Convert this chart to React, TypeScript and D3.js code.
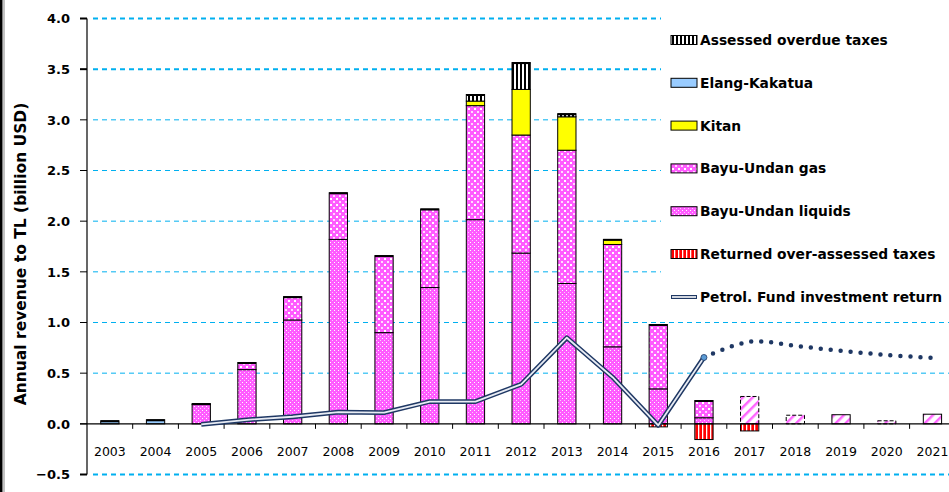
import React from 'react';
import * as d3 from 'd3';

const years = ['2003', '2004', '2005', '2006', '2007', '2008', '2009', '2010', '2011', '2012',
  '2013', '2014', '2015', '2016', '2017', '2018', '2019', '2020', '2021'];

const elangKakatua = [0.03, 0.04, 0, 0, 0, 0, 0, 0, 0, 0, 0, 0, 0, 0, 0, 0, 0, 0, 0];
const buLiquids = [0, 0, 0.19, 0.535, 1.025, 1.82, 0.9, 1.345, 2.015, 1.685, 1.385, 0.76, 0.345, 0.06, 0, 0, 0, 0, 0];
const buGas = [0, 0, 0.01, 0.07, 0.23, 0.46, 0.76, 0.775, 1.125, 1.165, 1.315, 1.01, 0.635, 0.17, 0, 0, 0, 0, 0];
const kitan = [0, 0, 0, 0, 0, 0, 0, 0, 0.045, 0.45, 0.33, 0.05, 0, 0, 0, 0, 0, 0, 0];
const overdueTaxes = [0, 0, 0, 0, 0, 0, 0, 0, 0.065, 0.265, 0.03, 0, 0, 0, 0, 0, 0, 0, 0];
const projected = [0, 0, 0, 0, 0, 0, 0, 0, 0, 0, 0, 0, 0, 0, 0.27, 0.085, 0.09, 0.03, 0.095];
const returnedTaxes = [0, 0, 0, 0, 0, 0, 0, 0, 0, 0, 0, 0, -0.03, -0.155, -0.07, 0, 0, 0, 0];

const fundYears = ['2005', '2006', '2007', '2008', '2009', '2010', '2011', '2012', '2013', '2014', '2015', '2016'];
const fundReturn = [-0.005, 0.04, 0.07, 0.115, 0.11, 0.22, 0.22, 0.39, 0.85, 0.46, -0.015, 0.655];
const fundForecastYears = ['2016', '2017', '2018', '2019', '2020', '2021'];
const fundForecast = [0.655, 0.81, 0.77, 0.72, 0.68, 0.65];

const yTicks = [-0.5, 0, 0.5, 1, 1.5, 2, 2.5, 3, 3.5, 4];
const thickTicks = [-0.5, 3.5, 4];

const legendItems = [
  { label: 'Assessed overdue taxes', fill: 'url(#pOverdue)' },
  { label: 'Elang-Kakatua', fill: '#99ccff' },
  { label: 'Kitan', fill: '#ffff00' },
  { label: 'Bayu-Undan gas', fill: 'url(#pGas)' },
  { label: 'Bayu-Undan liquids', fill: 'url(#pLiquids)' },
  { label: 'Returned over-assessed taxes', fill: 'url(#pReturned)' },
];

const W = 949;
const H = 492;
const FONT = '"DejaVu Sans", Verdana, sans-serif';
const NAVY = '#1f3864';

const keys = ['elang', 'liquids', 'gas', 'kitan', 'overdue', 'projected'];
const fills: Record<string, string> = {
  elang: '#99ccff',
  liquids: 'url(#pLiquids)',
  gas: 'url(#pGas)',
  kitan: '#ffff00',
  overdue: 'url(#pOverdue)',
  projected: 'url(#pProjected)',
};

export default function App() {
  const x = d3.scaleBand().domain(years).range([87, 955.3]).paddingInner(0.6).paddingOuter(0.3);
  const y = d3.scaleLinear().domain([-0.5, 4]).range([474.5, 18.5]);
  const bw = x.bandwidth();
  const cx = (yr: string) => (x(yr) as number) + bw / 2;

  const table = years.map((yr, i) => ({
    year: yr,
    elang: elangKakatua[i],
    liquids: buLiquids[i],
    gas: buGas[i],
    kitan: kitan[i],
    overdue: overdueTaxes[i],
    projected: projected[i],
  }));
  const series = d3.stack<any>().keys(keys)(table);

  const totals = table.map(d => keys.reduce((s, k) => s + (d as any)[k], 0));

  const fundLine = d3.line<number>().x((_, i) => cx(fundYears[i])).y(d => y(d));
  const forecastLine = d3.line<number>()
    .x((_, i) => cx(fundForecastYears[i]))
    .y(d => y(d))
    .curve(d3.curveCatmullRom.alpha(0.5));

  const fundPath = fundLine(fundReturn) || '';
  const forecastPath = forecastLine(fundForecast) || '';

  const boundaries = years.slice(1).map(yr => (x(yr) as number) - (x.step() - bw) / 2);

  return (
    <svg width={W} height={H} style={{ position: 'absolute', left: 0, top: 0, background: '#fff' }}>
      <defs>
        <pattern id="pLiquids" width="4" height="4" patternUnits="userSpaceOnUse">
          <rect width="4" height="4" fill="#ff5cff" />
          <rect x="0" y="0" width="1" height="1" fill="#ffc8ff" />
          <rect x="2" y="2" width="1" height="1" fill="#ffffff" />
        </pattern>
        <pattern id="pGas" width="6" height="6" patternUnits="userSpaceOnUse">
          <rect width="6" height="6" fill="#ff5cff" />
          <rect x="0" y="0" width="2" height="2" fill="#ffffff" />
          <rect x="3" y="3" width="2" height="2" fill="#ffd8ff" />
        </pattern>
        <pattern id="pOverdue" width="4" height="4" patternUnits="userSpaceOnUse">
          <rect width="4" height="4" fill="#ffffff" />
          <rect x="0" y="0" width="2" height="4" fill="#000000" />
        </pattern>
        <pattern id="pReturned" width="4" height="4" patternUnits="userSpaceOnUse">
          <rect width="4" height="4" fill="#ff0000" />
          <rect x="2" y="0" width="1.3" height="4" fill="#ffffff" />
        </pattern>
        <pattern id="pProjected" width="7" height="7" patternUnits="userSpaceOnUse" patternTransform="rotate(45)">
          <rect width="7" height="7" fill="#ffffff" />
          <rect x="0" y="0" width="2.5" height="7" fill="#ff66ff" />
        </pattern>
      </defs>

      {/* frame line on the left */}
      <rect x={0} y={0} width={2.5} height={H} fill="#000" />
      <rect x={3.5} y={0} width={1} height={H} fill="#888" />

      {/* gridlines */}
      {yTicks.filter(t => t !== 0).map(t => (
        <line key={'g' + t} x1={93} x2={W} y1={y(t)} y2={y(t)}
          stroke="#00b0f0" strokeWidth={thickTicks.includes(t) ? 2 : 1} strokeDasharray="5 4" />
      ))}

      {/* positive stacked bars */}
      {series.map(s => (
        <g key={s.key}>
          {s.map((d, i) => {
            if (d[1] - d[0] <= 0) return null;
            const isProj = s.key === 'projected';
            return (
              <rect key={i} x={x(years[i])} width={bw}
                y={y(d[1])} height={y(d[0]) - y(d[1])}
                fill={fills[s.key]} stroke="#000" strokeWidth={1}
                strokeDasharray={isProj && years[i] !== '2021' && years[i] !== '2019' ? '4 2' : undefined} />
            );
          })}
        </g>
      ))}

      {/* heavier top edge */}
      {totals.map((t, i) => t > 0 && projected[i] === 0 ? (
        <line key={'top' + i} x1={x(years[i])} x2={(x(years[i]) as number) + bw}
          y1={y(t) + 0.5} y2={y(t) + 0.5} stroke="#000" strokeWidth={2} />
      ) : null)}

      {/* negative bars */}
      {returnedTaxes.map((v, i) => v < 0 ? (
        <rect key={'neg' + i} x={x(years[i])} width={bw} y={y(0)} height={y(v) - y(0)}
          fill="url(#pReturned)" stroke="#000" strokeWidth={1} />
      ) : null)}

      {/* x axis */}
      <line x1={80} x2={W} y1={y(0)} y2={y(0)} stroke="#000" strokeWidth={1.2} />
      {boundaries.map((bx, i) => (
        <line key={'xt' + i} x1={bx} x2={bx} y1={y(0)} y2={y(0) + 5} stroke="#000" strokeWidth={1} />
      ))}
      {years.map(yr => (
        <text key={'xl' + yr} x={cx(yr)} y={456} textAnchor="middle" fontFamily={FONT} fontSize={12.5} fill="#000">{yr}</text>
      ))}

      {/* y axis */}
      <line x1={87} x2={87} y1={y(4)} y2={y(-0.5)} stroke="#000" strokeWidth={1.2} />
      {yTicks.map(t => (
        <g key={'yt' + t}>
          <line x1={80} x2={87} y1={y(t)} y2={y(t)} stroke="#000" strokeWidth={thickTicks.includes(t) ? 2 : 1} />
          <text x={70} y={y(t)} dy="0.36em" textAnchor="end" fontFamily={FONT} fontSize={13} fontWeight="bold" fill="#000">
            {d3.format('.1f')(t)}
          </text>
        </g>
      ))}
      <text transform="translate(26,254) rotate(-90)" textAnchor="middle" fontFamily={FONT}
        fontSize={15.5} fontWeight="bold" fill="#000">Annual revenue to TL (billion USD)</text>

      {/* fund return line */}
      <path d={fundPath} fill="none" stroke={NAVY} strokeWidth={4.8} strokeLinejoin="round" />
      <path d={fundPath} fill="none" stroke="#e8ecf4" strokeWidth={1.8} strokeLinejoin="round" />
      <path d={forecastPath} fill="none" stroke={NAVY} strokeWidth={4.5} strokeDasharray="0 10" strokeLinecap="round" />
      <circle cx={cx('2016')} cy={y(0.655)} r={3} fill="#5b9bd5" stroke={NAVY} strokeWidth={0.8} />

      {/* legend */}
      <rect x={661} y={0} width={W - 661} height={306} fill="#fff" />
      {legendItems.map((it, i) => {
        const ly = 40 + i * 42.8;
        return (
          <g key={it.label}>
            <rect x={671} y={ly - 4.5} width={26} height={9} fill={it.fill} stroke="#000" strokeWidth={1} />
            <text x={700} y={ly} dy="0.36em" fontFamily={FONT} fontSize={13.8} fontWeight="bold" fill="#000">{it.label}</text>
          </g>
        );
      })}
      <g>
        <line x1={671} x2={697} y1={297} y2={297} stroke={NAVY} strokeWidth={4} />
        <line x1={672} x2={696} y1={297} y2={297} stroke="#fff" strokeWidth={1.6} />
        <text x={700} y={297} dy="0.36em" fontFamily={FONT} fontSize={13.8} fontWeight="bold" fill="#000">Petrol. Fund investment return</text>
      </g>
    </svg>
  );
}
